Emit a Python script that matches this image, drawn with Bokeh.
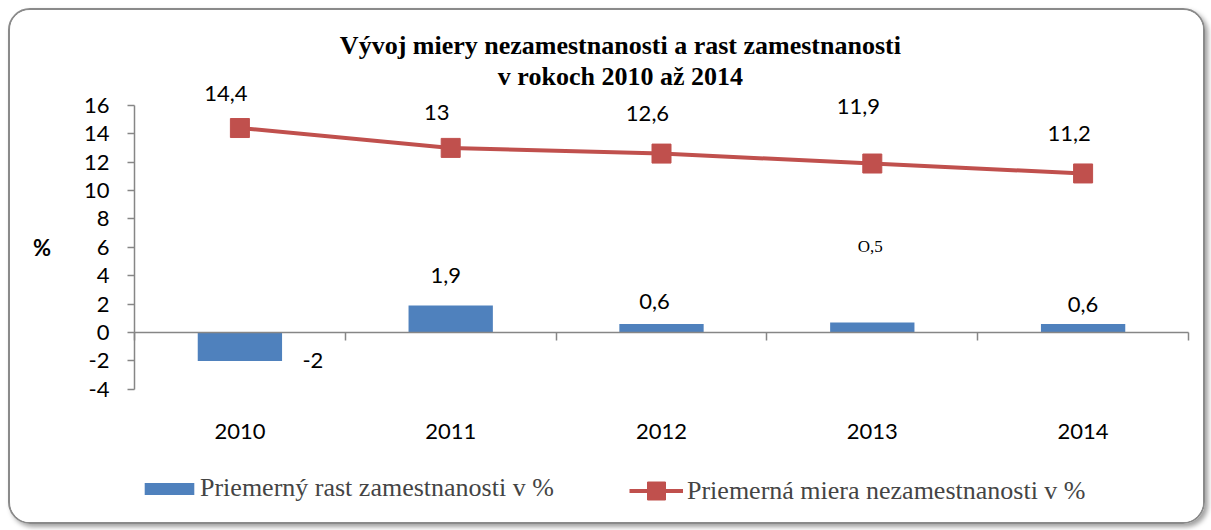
from bokeh.plotting import figure
from bokeh.models import (Range1d, LinearAxis, FixedTicker, ColumnDataSource,
                          LabelSet, Label, Legend, LegendItem)
from bokeh.core.properties import value
from bokeh.embed import file_html
from bokeh.resources import INLINE

# ---- data ----
years = ["2010", "2011", "2012", "2013", "2014"]
growth = [-2.0, 1.9, 0.6, 0.7, 0.6]
growth_labels = ["-2", "1,9", "0,6", "O,5", "0,6"]
unemployment = [14.4, 13.0, 12.6, 11.9, 11.2]
unemployment_labels = ["14,4", "13", "12,6", "11,9", "11,2"]
y_ticks = [-4, -2, 0, 2, 4, 6, 8, 10, 12, 14, 16]
title_lines = ["Vývoj miery nezamestnanosti a rast zamestnanosti", "v rokoch 2010 až 2014"]
series_names = ["Priemerný rast zamestnanosti v %", "Priemerná miera nezamestnanosti v %"]

# ---- label placement (pixels) ----
line_label_dx = [-14, -14, -14, -14, -14]
line_label_dy = [35, 35, 40, 57, 40]
bar_label_dx = [73, -5, -7, -2, 0]
bar_label_dy = [0, 30, 22, 76, 19]
bar_label_font = ["Lato", "Lato", "Lato", "Liberation Serif", "Lato"]
bar_label_size = ["22px", "22px", "22px", "17px", "22px"]

BLUE = "#4F81BD"
RED = "#C0504D"
GREY = "#868686"

# ---- geometry (pixels) ----
W, H = 1197, 516
PX_X = 210.8          # pixels per category
PX_Y = 14.2           # pixels per percent
AX_LEFT = 124         # canvas x of category 0 boundary
ZERO_Y = 322          # canvas y of value 0

n = len(years)
xs = [i + 0.5 for i in range(n)]
x0 = -AX_LEFT / PX_X
y1 = ZERO_Y / PX_Y

p = figure(width=W, height=H,
           x_range=Range1d(x0, x0 + W / PX_X), y_range=Range1d(y1 - H / PX_Y, y1),
           x_axis_type=None, y_axis_type=None, output_backend="svg", toolbar_location=None,
           min_border=0)
p.title.visible = False
p.outline_line_color = None
p.background_fill_color = "white"
p.border_fill_color = "white"
p.styles = {"border": "2px solid #8a8a8a", "border-radius": "22px",
            "box-shadow": "3px 3px 5px #a0a0a0", "overflow": "hidden",
            "margin-left": "8px", "margin-top": "8px"}

# y axis
yax = LinearAxis(ticker=FixedTicker(ticks=y_ticks), fixed_location=0, bounds=(y_ticks[0], y_ticks[-1]),
                 major_label_overrides={t: str(t) for t in y_ticks})
yax.axis_line_color = GREY
yax.axis_line_width = 1.5
yax.major_tick_line_color = GREY
yax.major_tick_line_width = 1.5
yax.major_tick_out = 7
yax.major_tick_in = 0
yax.minor_tick_out = 0
yax.minor_tick_in = 0
yax.major_label_text_font = "Lato"
yax.major_label_text_font_size = "22px"
yax.major_label_text_color = "black"
yax.major_label_standoff = 18
yax.axis_label = "%"
yax.axis_label_orientation = "horizontal"
yax.axis_label_text_font = "Lato"
yax.axis_label_text_font_style = "bold"
yax.axis_label_text_font_size = "22px"
yax.axis_label_text_color = "black"
yax.axis_label_standoff = 30
p.add_layout(yax, "left")

# category labels axis (below plot area)
cat_ax = LinearAxis(ticker=FixedTicker(ticks=xs), fixed_location=y_ticks[0],
                    major_label_overrides={x: y for x, y in zip(xs, years)})
cat_ax.axis_line_color = None
cat_ax.major_tick_line_color = None
cat_ax.major_tick_out = 0
cat_ax.major_tick_in = 0
cat_ax.minor_tick_out = 0
cat_ax.minor_tick_in = 0
cat_ax.major_label_text_font = "Lato"
cat_ax.major_label_text_font_size = "22px"
cat_ax.major_label_text_color = "black"
cat_ax.major_label_standoff = 35
p.add_layout(cat_ax, "below")

# zero line with category-boundary ticks
bounds_ticks = list(range(n + 1))
zero_ax = LinearAxis(ticker=FixedTicker(ticks=bounds_ticks), fixed_location=0, bounds=(0, n),
                     major_label_overrides={t: "" for t in bounds_ticks})
zero_ax.axis_line_color = GREY
zero_ax.axis_line_width = 1.5
zero_ax.major_tick_line_color = GREY
zero_ax.major_tick_line_width = 1.5
zero_ax.major_tick_out = 8
zero_ax.major_tick_in = 0
zero_ax.minor_tick_out = 0
zero_ax.minor_tick_in = 0
p.add_layout(zero_ax, "below")

# bars
bsrc = ColumnDataSource(dict(x=xs, top=growth, text=growth_labels, dx=bar_label_dx, dy=bar_label_dy,
                             font=bar_label_font, size=bar_label_size))
bars = p.vbar(x="x", top="top", bottom=0, width=0.4, source=bsrc, fill_color=BLUE, line_color=None,
              level="underlay")

# line
lsrc = ColumnDataSource(dict(x=xs, y=unemployment, text=unemployment_labels,
                             dx=line_label_dx, dy=line_label_dy))
line_r = p.line(x="x", y="y", source=lsrc, line_color=RED, line_width=4)
mark_r = p.scatter(x="x", y="y", source=lsrc, marker="square", size=19, fill_color=RED, line_color=RED)

# data labels
p.add_layout(LabelSet(x="x", y="y", text="text", source=lsrc, x_offset="dx", y_offset="dy",
                      text_align="center", text_baseline="middle",
                      text_font=value("Lato"), text_font_size=value("22px"), text_color="black"))
p.add_layout(LabelSet(x="x", y="top", text="text", source=bsrc, x_offset="dx", y_offset="dy",
                      text_align="center", text_baseline="middle",
                      text_font={"field": "font"}, text_font_size={"field": "size"}, text_color="black"))

# title (two lines)
for txt, yv in zip(title_lines, [20.2, 18.05]):
    p.add_layout(Label(x=2.305, y=yv, text=txt, text_align="center", text_baseline="middle",
                       text_font="Liberation Serif", text_font_style="bold", text_font_size="26px",
                       text_color="black"))

# legends
leg1 = Legend(items=[LegendItem(label=series_names[0], renderers=[bars])],
              location=(128, 23), orientation="horizontal", glyph_width=62, glyph_height=15,
              label_text_font="Liberation Serif", label_text_font_size="26px",
              border_line_color=None, background_fill_alpha=0, padding=0, margin=0,
              label_standoff=0, spacing=0)
leg2 = Legend(items=[LegendItem(label=series_names[1], renderers=[line_r, mark_r])],
              location=(619, 13), orientation="horizontal", glyph_width=54, glyph_height=45,
              label_text_font="Liberation Serif", label_text_font_size="26px",
              border_line_color=None, background_fill_alpha=0, padding=0, margin=0,
              label_standoff=4, spacing=0)
p.add_layout(leg1, "center")
p.add_layout(leg2, "center")

open("out.html", "w").write(file_html(p, INLINE))
